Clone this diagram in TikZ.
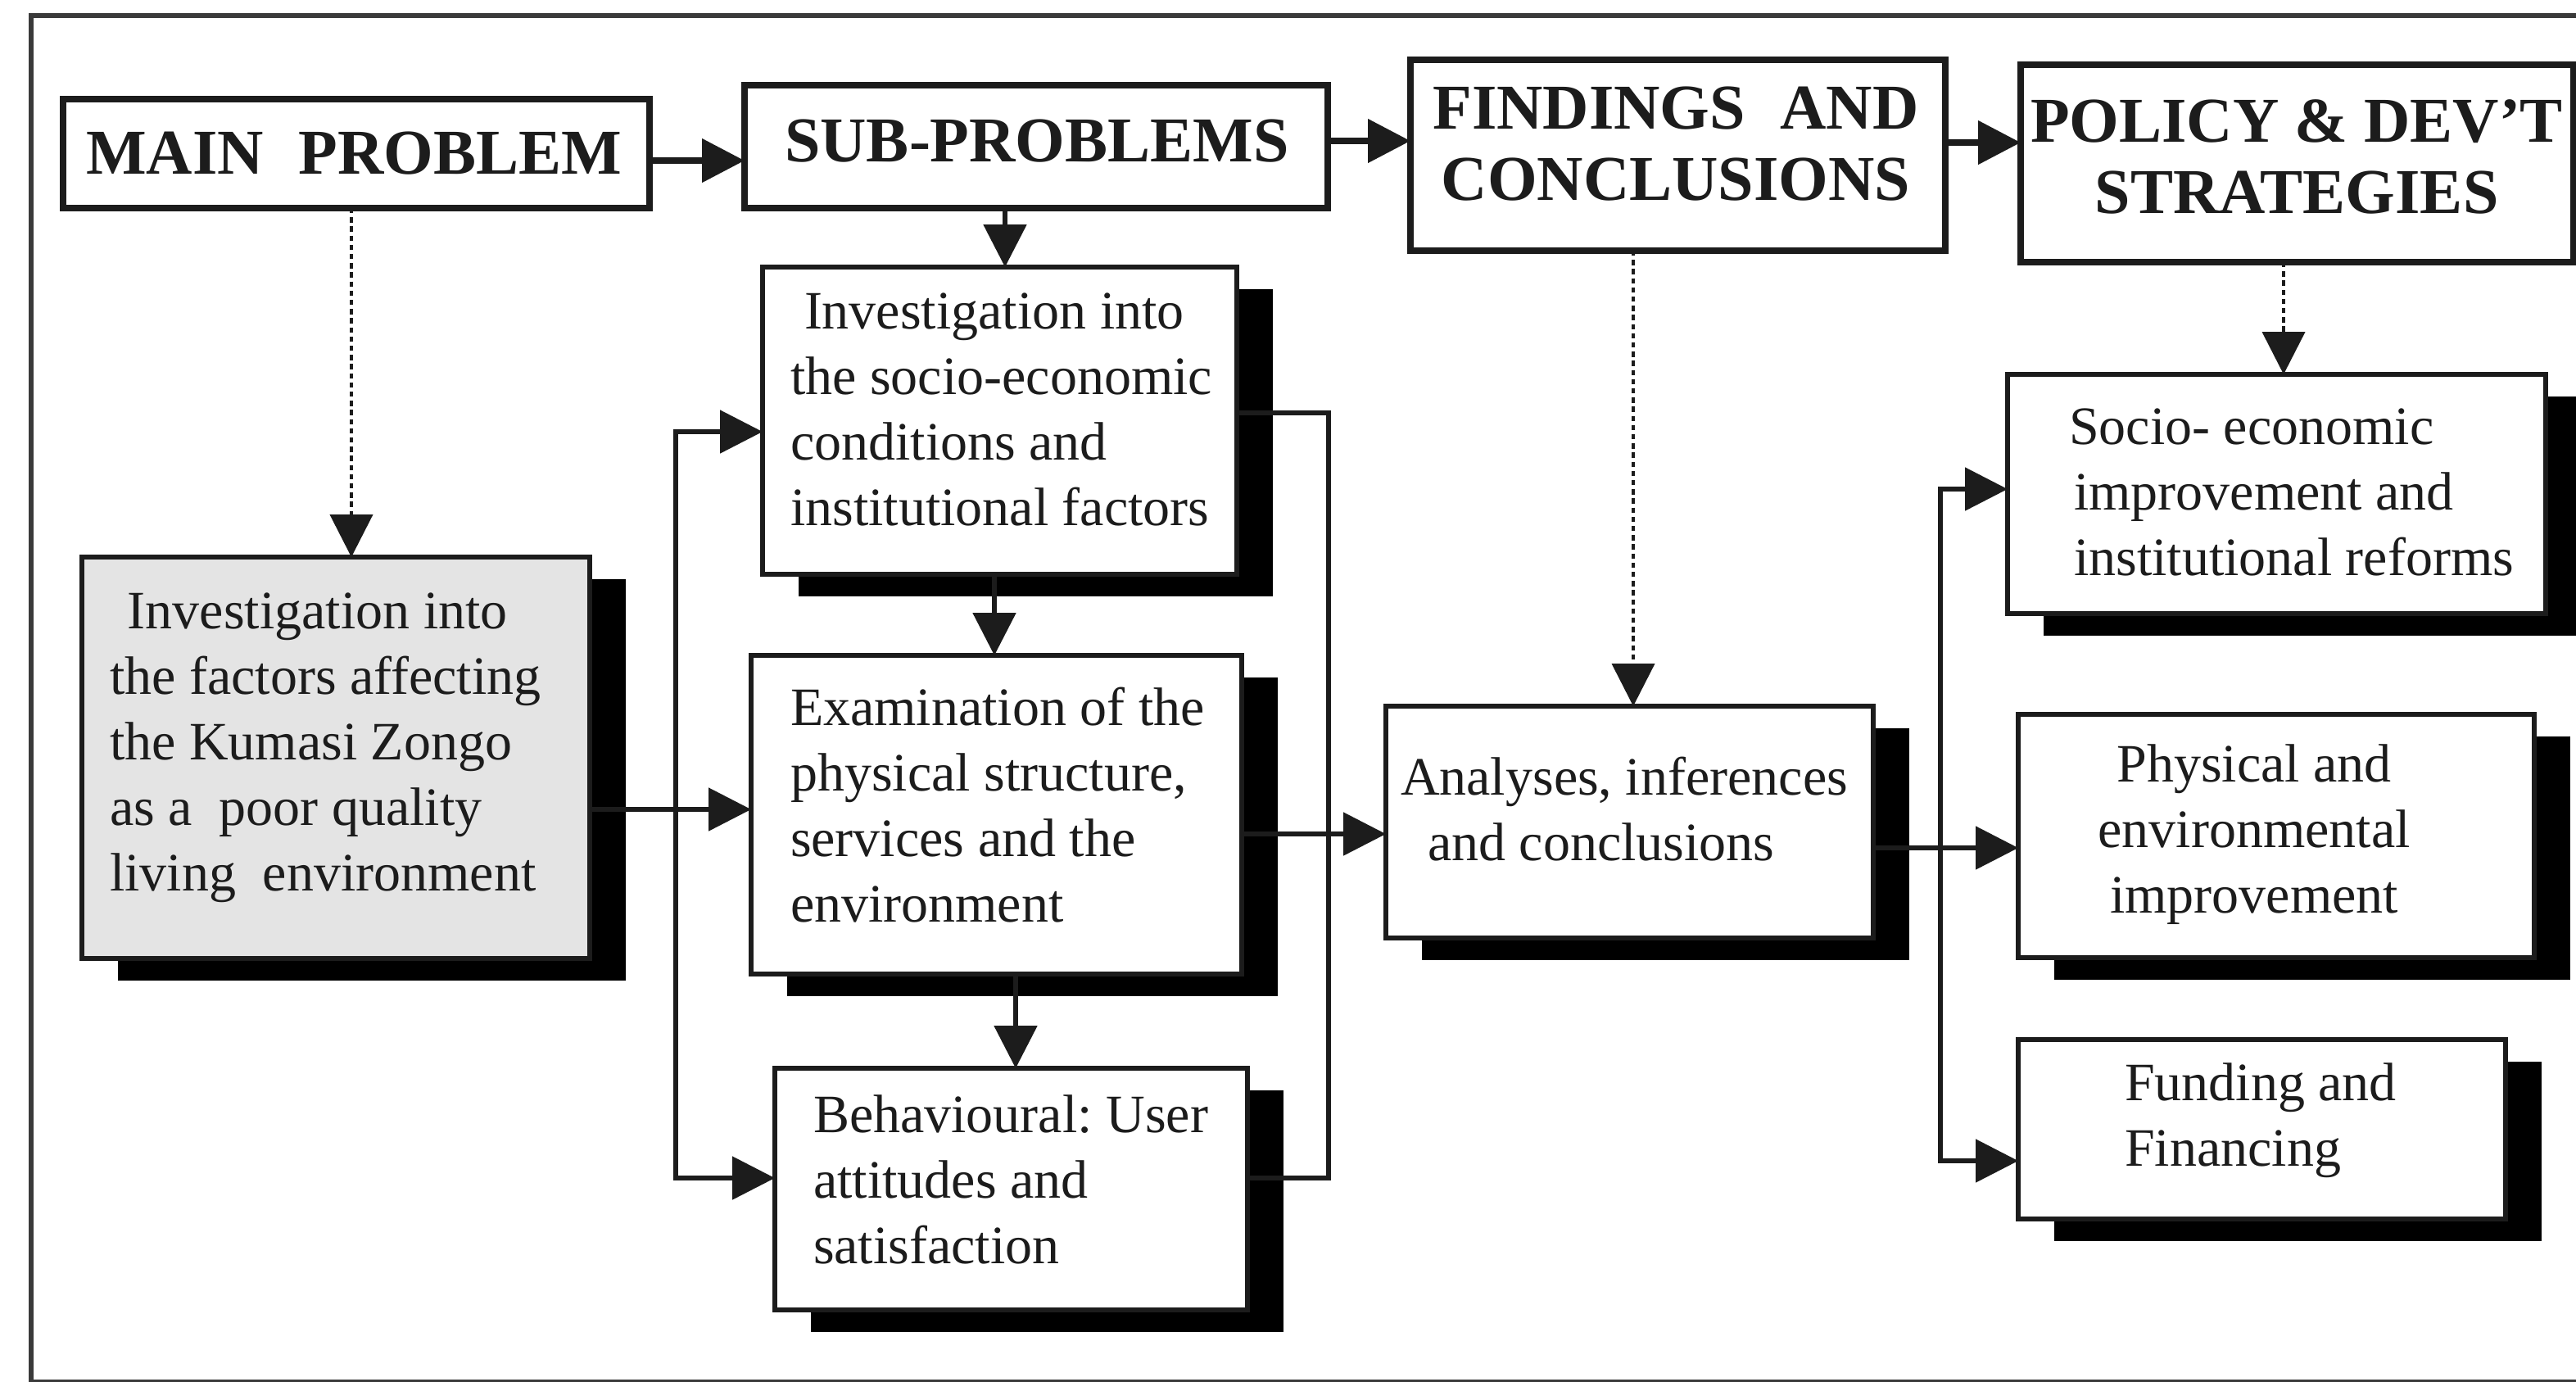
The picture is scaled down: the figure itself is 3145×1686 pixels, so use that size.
\documentclass[tikz,border=0pt]{standalone}
\usepackage{fontspec}
\setmainfont{Liberation Serif}
\frenchspacing
\usetikzlibrary{arrows.meta,shadows}
\definecolor{ink}{HTML}{1C1C1C}
\definecolor{panel}{HTML}{E4E4E4}
\definecolor{framegray}{HTML}{3A3A3A}
\begin{document}
\begin{tikzpicture}[x=0.25pt,y=-0.25pt,
  every node/.style={inner sep=0pt, outer sep=0pt},
  headbox/.style={draw=ink, line width=2.2pt, fill=white, rectangle},
  stepbox/.style={draw=ink, line width=1.3pt, fill=white, rectangle,
    drop shadow={shadow xshift=11pt, shadow yshift=-6.75pt, fill=black, opacity=1}},
  headtext/.style={font=\bfseries\fontsize{19.5pt}{21.75pt}\selectfont, text=ink, align=center},
  bodytext/.style={font=\fontsize{16.5pt}{20pt}\selectfont, text=ink, align=left, anchor=west},
  flow/.style={draw=ink, line width=1.3pt, -{Triangle[length=13pt,width=13pt]}},
  topflow/.style={flow, line width=2pt},
  link/.style={draw=ink, line width=1.3pt},
  dotflow/.style={flow, line width=1pt, dash pattern=on 1.6pt off 1.2pt},
]
% page area and outer frame
\useasboundingbox (0,0) rectangle (3145,1686);
\fill[white] (0,0) rectangle (3145,1686);
\draw[framegray, line width=1.5pt] (38,19) rectangle (3200,1687);

% heading row
\node[headbox, minimum width=179pt, minimum height=33.25pt] (main) at (435,187.5) {};
\node[headbox, minimum width=178pt, minimum height=37.5pt] (sub) at (1265,179) {};
\node[headbox, minimum width=163.25pt, minimum height=58.25pt] (find) at (2048.5,189.5) {};
\node[headbox, minimum width=168.75pt, minimum height=60.25pt] (policy) at (2804.5,199.5) {};

\node[headtext] (mainLabel) at (432,187) {MAIN\hspace{0.55em}PROBLEM};
\node[headtext] (subLabel) at (1266,172) {SUB-PROBLEMS};
\node[headtext] (findLabel) at (2046,176) {FINDINGS\hspace{0.55em}AND\\CONCLUSIONS};
\node[headtext] (policyLabel) at (2804,191) {POLICY \& DEV’T\\STRATEGIES};

% study boxes
\node[stepbox, fill=panel, minimum width=155pt, minimum height=122.5pt] (factors) at (410,925) {};
\node[stepbox, minimum width=144.75pt, minimum height=93.75pt] (socio) at (1220.5,513.5) {};
\node[stepbox, minimum width=149.75pt, minimum height=97.25pt] (exam) at (1216.5,994.5) {};
\node[stepbox, minimum width=144.25pt, minimum height=73.75pt] (behav) at (1234.5,1451.5) {};
\node[stepbox, minimum width=148.75pt, minimum height=70.75pt] (analyses) at (1989.5,1003.5) {};
\node[stepbox, minimum width=164.25pt, minimum height=73pt] (socimp) at (2779.5,603) {};
\node[stepbox, minimum width=157.5pt, minimum height=74.25pt] (phys) at (2779,1020.5) {};
\node[stepbox, minimum width=148.75pt, minimum height=54.75pt] (fund) at (2761.5,1378.5) {};

\node[bodytext] (factorsLabel) at (134,913) {\hspace*{5.5pt}Investigation into\\the factors affecting\\the Kumasi Zongo\\as a\ \ poor quality\\living\ \ environment};
\node[bodytext] (socioLabel) at (965,500) {\hspace*{4.25pt}Investigation into\\the socio-economic\\conditions and\\institutional factors};
\node[bodytext] (examLabel) at (965,983) {Examination of the\\physical structure,\\services and the\\environment};
\node[bodytext] (behavLabel) at (993,1440) {Behavioural: User\\attitudes and\\satisfaction};
\node[bodytext] (analysesLabel) at (1710,988) {Analyses, inferences\\\hspace*{8.25pt}and conclusions};
\node[bodytext] (socimpLabel) at (2526,601) {Socio- economic\\\hspace*{1.5pt}improvement and\\\hspace*{1.5pt}institutional reforms};
\node[bodytext, align=center, anchor=center] (physLabel) at (2752,1019) {Physical and\\environmental\\improvement};
\node[bodytext] (fundLabel) at (2594,1368) {Funding and\\Financing};

% heading row arrows
\draw[topflow] (main.east |- 0,196) -- (sub.west |- 0,196);
\draw[topflow] (sub.east |- 0,172) -- (find.west |- 0,172);
\draw[topflow] (find.east |- 0,174) -- (policy.west |- 0,174);

% dotted links from headings to their columns
\draw[dotflow] (main.south -| 429,0) -- (factors.north -| 429,0);
\draw[dotflow] (find.south -| 1994,0) -- (analyses.north -| 1994,0);
\draw[dotflow] (policy.south -| 2788,0) -- (socimp.north -| 2788,0);

% sub-problem chain
\draw[flow] (sub.south -| 1227,0) -- (socio.north -| 1227,0);
\draw[flow] (socio.south -| 1214,0) -- (exam.north -| 1214,0);
\draw[flow] (exam.south -| 1240,0) -- (behav.north -| 1240,0);

% main problem feeding the sub-problems
\coordinate (fork) at (825,988);
\draw[flow] (factors.east |- fork) -- (exam.west |- fork);
\draw[flow] (fork) |- (socio.west |- 0,527);
\draw[flow] (fork) |- (behav.west |- 0,1438);

% sub-problems merging into the analyses
\coordinate (merge) at (1622,1018);
\draw[link] (socio.east |- 0,504) -| (merge);
\draw[link] (behav.east |- 0,1438) -| (merge);
\draw[flow] (exam.east |- merge) -- (analyses.west |- merge);

% analyses spreading to the strategies
\coordinate (spread) at (2369,1035);
\draw[flow] (analyses.east |- spread) -- (phys.west |- spread);
\draw[flow] (spread) |- (socimp.west |- 0,597);
\draw[flow] (spread) |- (fund.west |- 0,1417);
\end{tikzpicture}
\end{document}
